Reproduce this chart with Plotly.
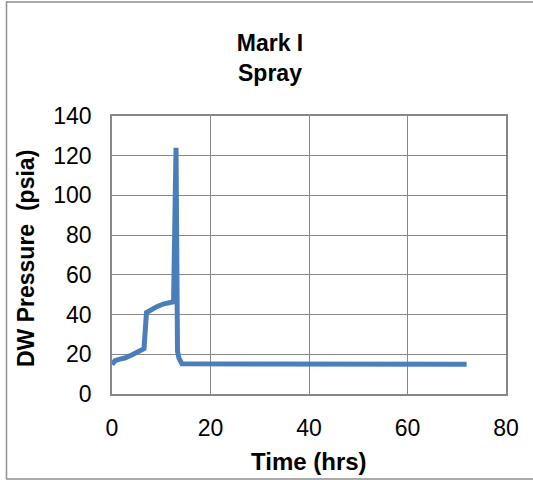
import plotly.graph_objects as go

# ---- data ----
time_hrs = [0, 0.6, 1.6, 2.6, 4.0, 5.3, 6.5, 7.0, 7.5, 8.3, 9.1, 10.4, 11.5, 12.5,
            13.0, 13.3, 13.6, 14.2, 72]
dw_pressure = [14.8, 16.8, 17.6, 18.1, 19.6, 21.6, 22.8, 41.0, 41.8, 42.5, 44.0, 45.3, 45.7, 46.5,
               124.0, 21.5, 18.0, 15.2, 15.0]

x_ticks = [0, 20, 40, 60, 80]
y_ticks = [0, 20, 40, 60, 80, 100, 120, 140]

title_text = "Mark I<br>Spray"
x_title = "Time (hrs)"
y_title = "DW Pressure \u00a0(psia)"

# ---- layout geometry (pixels) ----
W, H = 533, 480
L, R, T, B = 112, 27, 116, 86
pw, ph = W - L - R, H - T - B

def px_x(px):
    return (px - L) / pw

def px_y(py):
    return (H - B - py) / ph

FONT = "Liberation Sans, Arial, sans-serif"
GRID = "#878787"

fig = go.Figure()
fig.add_trace(go.Scatter(
    x=time_hrs, y=dw_pressure, mode="lines",
    line=dict(color="#4a7ebb", width=5),
    showlegend=False, hoverinfo="x+y",
))

fig.update_layout(
    width=W, height=H,
    margin=dict(l=L, r=R, t=T, b=B, autoexpand=False),
    paper_bgcolor="white", plot_bgcolor="white",
    font=dict(family=FONT, color="black", size=23),
    title=dict(text="<b>" + title_text + "</b>", x=270 / W, xanchor="center",
               y=1 - 51 / H, yanchor="middle", xref="container", yref="container",
               font=dict(family=FONT, size=23, color="black")),
)

fig.update_xaxes(
    range=[0, 80], tickvals=x_ticks, ticktext=[str(v) for v in x_ticks],
    showgrid=True, gridcolor=GRID, gridwidth=1.3, zeroline=False,
    showline=True, mirror=True, linecolor=GRID, linewidth=1.5,
    ticks="", ticklabelstandoff=13, tickfont=dict(size=23, family=FONT),
    automargin=False,
)
fig.update_yaxes(
    range=[0, 140], tickvals=y_ticks, ticktext=[str(v) for v in y_ticks],
    showgrid=True, gridcolor=GRID, gridwidth=1.3, zeroline=False,
    showline=True, mirror=True, linecolor=GRID, linewidth=1.5,
    ticks="", ticklabelstandoff=14, tickfont=dict(size=23, family=FONT),
    automargin=False,
)

# axis titles
fig.add_annotation(text="<b>" + x_title + "</b>", xref="paper", yref="paper",
                   x=px_x(309), y=px_y(461), xanchor="center", yanchor="middle",
                   showarrow=False, font=dict(size=24, family=FONT, color="black"))
fig.add_annotation(text="<b>" + y_title + "</b>", xref="paper", yref="paper",
                   x=px_x(26), y=px_y(259), xanchor="center", yanchor="middle",
                   textangle=-90, showarrow=False,
                   font=dict(size=23, family=FONT, color="black"))

# outer chart border (partly cut off on the right, as in the reference)
fig.add_shape(type="rect", xref="paper", yref="paper",
              x0=px_x(6.5), x1=px_x(545), y0=px_y(479), y1=px_y(2),
              line=dict(color="#8f8f8f", width=1.5), fillcolor="rgba(0,0,0,0)",
              layer="below")

# remove the default page margin so the figure sits at the window's top-left corner
fig.write_html("out.html", config={"displayModeBar": False},
               post_script="document.body.style.margin='0';")
